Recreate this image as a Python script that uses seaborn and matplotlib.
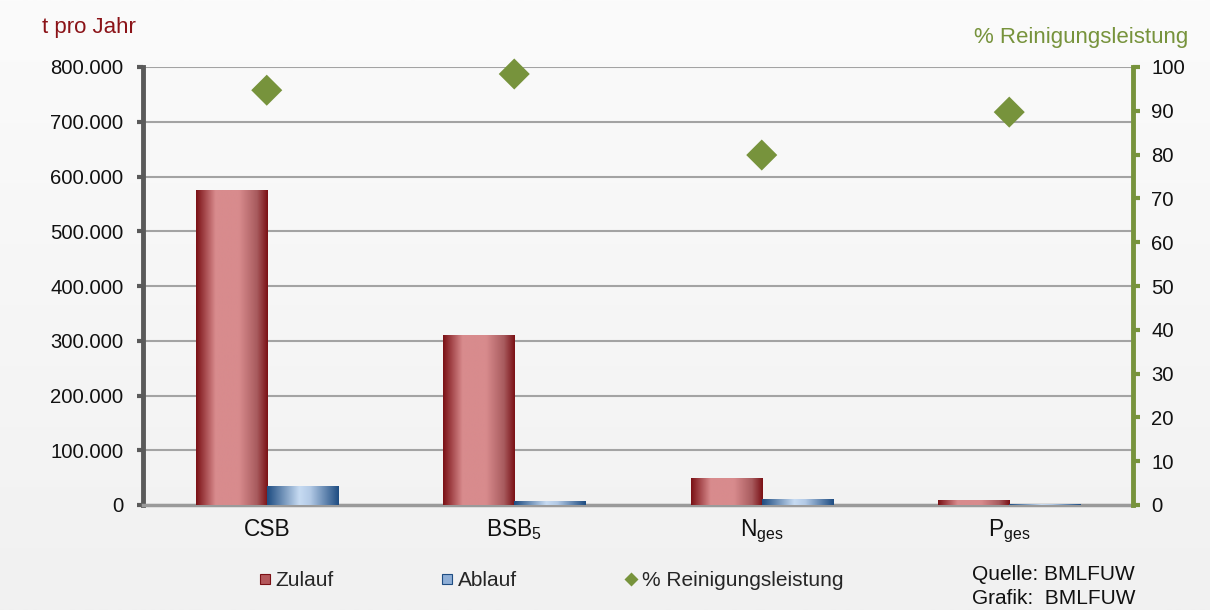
import numpy as np
import pandas as pd
import matplotlib
matplotlib.use("Agg")
import matplotlib.pyplot as plt
import seaborn as sns
from matplotlib.colors import LinearSegmentedColormap
from matplotlib.lines import Line2D

# --- data -------------------------------------------------------------
categories = ["CSB", "BSB$_5$", "N$_{ges}$", "P$_{ges}$"]
zulauf = [575000, 310000, 49000, 8500]
ablauf = [33000, 7000, 9500, 800]
reinigung = [94.7, 98.4, 79.9, 89.7]
left_ticks = [0, 100000, 200000, 300000, 400000, 500000, 600000, 700000, 800000]
right_ticks = [0, 10, 20, 30, 40, 50, 60, 70, 80, 90, 100]

# --- style --------------------------------------------------------------
sns.set_theme(style="white")
plt.rcParams["font.family"] = ["Liberation Sans", "DejaVu Sans"]
plt.rcParams["mathtext.fontset"] = "custom"
plt.rcParams["mathtext.rm"] = "Liberation Sans"
plt.rcParams["mathtext.it"] = "Liberation Sans"
plt.rcParams["mathtext.default"] = "rm"

RED_DARK, RED_LIGHT = "#7b1116", "#d88b8d"
BLUE_DARK, BLUE_LIGHT = "#1f4d82", "#c7dbf2"
GREEN = "#77933c"
TXT = "#111111"
FS_TICK = 14.6
FS_CAT = 16.4
FS_TITLE = 16
FS_LEG = 15

fig = plt.figure(figsize=(12.1, 6.1), dpi=100)

# soft vertical background shading
bg = fig.add_axes([0, 0, 1, 1], zorder=-10)
shade = np.linspace(0, 1, 256).reshape(-1, 1)
bg_cmap = LinearSegmentedColormap.from_list("bg", ["#fbfbfb", "#f1f1f1"])
bg.imshow(shade, aspect="auto", cmap=bg_cmap, extent=[0, 1, 0, 1])
bg.set_axis_off()

ax = fig.add_axes([143 / 1210, 1 - 505 / 610, (1133 - 143) / 1210, (505 - 67) / 610])
ax.set_facecolor("none")

df = pd.DataFrame({
    "Kategorie": categories * 2,
    "Wert": zulauf + ablauf,
    "Serie": ["Zulauf"] * len(categories) + ["Ablauf"] * len(categories),
})
sns.barplot(data=df, x="Kategorie", y="Wert", hue="Serie",
            hue_order=["Zulauf", "Ablauf"],
            palette=[RED_LIGHT, BLUE_LIGHT], width=0.575, gap=0,
            order=categories, ax=ax, legend=False, zorder=3, linewidth=0)

# cylinder-like shading across each bar
red_cmap = LinearSegmentedColormap.from_list(
    "zul", [(0, RED_DARK), (0.27, RED_LIGHT), (0.6, RED_LIGHT),
            (0.85, "#a85b5e"), (1, RED_DARK)])
blue_cmap = LinearSegmentedColormap.from_list(
    "abl", [(0, BLUE_DARK), (0.45, BLUE_LIGHT), (0.6, "#b3cae6"),
            (1, BLUE_DARK)])
ramp = np.linspace(0, 1, 200).reshape(1, -1)
for container, cmap in zip(ax.containers, [red_cmap, blue_cmap]):
    for bar in container:
        x0, y0 = bar.get_xy()
        w, h = bar.get_width(), bar.get_height()
        if h <= 0:
            continue
        ax.imshow(ramp, extent=[x0, x0 + w, y0, y0 + h], aspect="auto",
                  cmap=cmap, zorder=3, interpolation="bilinear")
        bar.set_visible(False)

ax.set_xlim(-0.5, len(categories) - 0.5)
ax.set_ylim(0, 800000)
ax.set_yticks(left_ticks)
ax.set_yticklabels([f"{v:,}".replace(",", ".") for v in left_ticks],
                   fontsize=FS_TICK, color=TXT)
ax.set_xticks(range(len(categories)))
ax.set_xticklabels(categories, fontsize=FS_CAT, color=TXT)
ax.set_xticks(np.arange(-0.5, len(categories)), minor=True)
ax.tick_params(axis="x", which="major", length=0, pad=9)
ax.tick_params(axis="x", which="minor", length=5, width=1, color="#9a9a9a",
               direction="out")
ax.tick_params(axis="y", which="major", length=4, width=3, color="#5a5a5a",
               direction="out", pad=10, left=True)
ax.set_xlabel("")
ax.set_ylabel("")
ax.set_axisbelow(True)
ax.yaxis.grid(True, color="#a3a3a3", linewidth=1.5)
ax.xaxis.grid(False)
for side in ["top", "right"]:
    ax.spines[side].set_visible(False)
ax.spines["left"].set_color("#5a5a5a")
ax.spines["left"].set_linewidth(3.5)
ax.spines["bottom"].set_color("#9a9a9a")
ax.spines["bottom"].set_linewidth(2.5)

# second scale: cleaning efficiency in percent
ax2 = ax.twinx()
ax2.set_facecolor("none")
sns.scatterplot(x=np.arange(len(categories)), y=reinigung, ax=ax2,
                marker="D", s=250, color=GREEN, edgecolor="none",
                zorder=5, legend=False, clip_on=False)
ax2.set_ylim(0, 100)
ax2.set_xlim(-0.5, len(categories) - 0.5)
ax2.set_yticks(right_ticks)
ax2.set_yticklabels([str(v) for v in right_ticks], fontsize=FS_TICK, color=TXT)
ax2.tick_params(axis="y", length=5, width=3, color=GREEN, direction="out",
                pad=8, right=True)
ax2.set_ylabel("")
for side in ["top", "left", "bottom"]:
    ax2.spines[side].set_visible(False)
ax2.spines["right"].set_color(GREEN)
ax2.spines["right"].set_linewidth(3.5)
ax2.grid(False)

# axis titles
fig.text(42 / 1210, 1 - 27 / 610, "t pro Jahr", fontsize=FS_TITLE,
         color="#8b1318", ha="left", va="center")
fig.text(1188 / 1210, 1 - 38 / 610, "% Reinigungsleistung", fontsize=FS_TITLE,
         color=GREEN, ha="right", va="center")

# legend entries placed along the bottom
entries = [
    (Line2D([], [], marker="s", linestyle="none", markersize=7.5,
            markerfacecolor="#b4575b", markeredgecolor=RED_DARK,
            markeredgewidth=0.8), "Zulauf", 259),
    (Line2D([], [], marker="s", linestyle="none", markersize=7.5,
            markerfacecolor="#8eaed6", markeredgecolor=BLUE_DARK,
            markeredgewidth=0.8), "Ablauf", 441),
    (Line2D([], [], marker="D", linestyle="none", markersize=7,
            markerfacecolor=GREEN, markeredgecolor="none"),
     "% Reinigungsleistung", 625),
]
for handle, label, xpix in entries:
    fig.legend([handle], [label], loc="center left",
               bbox_to_anchor=(xpix / 1210, 1 - 581 / 610),
               frameon=False, fontsize=FS_LEG, handlelength=0.6,
               handletextpad=0.2, borderpad=0, borderaxespad=0)

fig.text(972 / 1210, 1 - 574 / 610, "Quelle: BMLFUW", fontsize=FS_LEG,
         color=TXT, ha="left", va="center")
fig.text(972 / 1210, 1 - 598 / 610, "Grafik:  BMLFUW", fontsize=FS_LEG,
         color=TXT, ha="left", va="center")

fig.savefig("out.png", dpi=100)
